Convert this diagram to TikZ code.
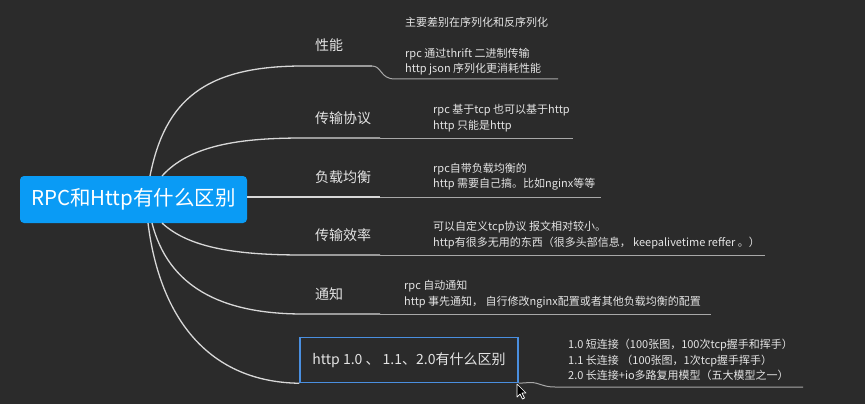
\documentclass[tikz,border=0pt]{standalone}
\usepackage{fontspec}
\setmainfont{Noto Sans CJK SC}
\usepackage{tikz}
\definecolor{bgcol}{HTML}{2B2B2B}
\definecolor{rootcol}{HTML}{0A9BF5}
\definecolor{boxcol}{HTML}{4A8FE0}
\definecolor{txtcol}{HTML}{E4E4E4}
\definecolor{linecol}{HTML}{D8D8D8}
\definecolor{subcol}{HTML}{A8A8A8}

\begin{document}
\begin{tikzpicture}[x=1pt,y=-1pt,
		branch/.style={draw=linecol,line width=1.3pt},
		subline/.style={draw=subcol,line width=1pt},
		topic/.style={anchor=west,inner sep=0pt,text=txtcol,font=\fontsize{14}{16}\selectfont},
		detail/.style={anchor=west,inner sep=0pt,text=txtcol,align=left,font=\fontsize{11}{15.5}\selectfont}]
		\fill[bgcol] (0,0) rectangle (865,404);
		\useasboundingbox (0,0) rectangle (865,404);
		
		\node[fill=rootcol,rounded corners=4pt,minimum width=227pt,minimum height=47pt,inner sep=0pt,text=white,font=\fontsize{20.5}{24}\selectfont] (root) at (133.5,199.5) {RPC和Http有什么区别};
		
		\coordinate (r1) at (150,176);
		\coordinate (r2) at (162,176);
		\coordinate (r4) at (162,223);
		\coordinate (r5) at (152,223);
		\coordinate (r6) at (148,223);
		
		% topics
		\node[topic] (xn) at (315,45) {性能};
		\node[topic] (xy) at (315,118) {传输协议};
		\node[topic] (jh) at (315,177) {负载均衡};
		\node[topic] (xl) at (315,235) {传输效率};
		\node[topic] (tz) at (315,294) {通知};
		\node[draw=boxcol,line width=1.5pt,minimum width=218pt,minimum height=45pt,inner sep=0pt,text=txtcol,font=\fontsize{14}{16}\selectfont] (ht) at (409,360) {http 1.0 、 1.1、2.0有什么区别};
		
		% details
		\node[detail] (dxn) at (405,46) {主要差别在序列化和反序列化\\ \\rpc 通过thrift 二进制传输\\http json 序列化更消耗性能};
		\node[detail] (dxy) at (433,118) {rpc 基于tcp 也可以基于http\\http 只能是http};
		\node[detail] (djh) at (433,176.5) {rpc自带负载均衡的\\http 需要自己搞。比如nginx等等};
		\node[detail] (dxl) at (433,235) {可以自定义tcp协议 报文相对较小。\\http有很多无用的东西（很多头部信息， keepalivetime reffer 。）};
		\node[detail] (dtz) at (404,294) {rpc 自动通知\\http 事先通知， 自行修改nginx配置或者其他负载均衡的配置};
		\node[detail] (dht) at (568,360) {1.0 短连接（100张图，100次tcp握手和挥手）\\1.1 长连接 （100张图，1次tcp握手挥手）\\2.0 长连接+io多路复用模型（五大模型之一）};
		
		% branch ends
		\coordinate (e1) at (372,66);
		\coordinate (e2) at (380,138);
		\coordinate (e4) at (380,255);
		\coordinate (e5) at (380,314);
		
		\draw[branch] (r1) .. controls (165,100) and (205,66) .. (303,66) -- (e1);
		\draw[branch] (r2) .. controls (190,145) and (240,138) .. (303,138) -- (e2);
		\draw[branch] (root.east |- 0,197) -- (380,197);
		\draw[branch] (r4) .. controls (190,249) and (240,255) .. (303,255) -- (e4);
		\draw[branch] (r5) .. controls (168,286) and (220,314) .. (303,314) -- (e5);
		\draw[branch] (r6) .. controls (160,320) and (210,382) .. (ht.south west);
		
		% sub lines
		\draw[subline] (e1) .. controls (382,66) and (380,79) .. (395,79) -- (558,79);
		\draw[subline] (e2) -- (573,138);
		\draw[subline] (380,197) -- (601,197);
		\draw[subline] (e4) -- (765,255);
		\draw[subline] (e5) -- (711,314);
		\draw[subline] (ht.south east) -- (530,382.5) .. controls (540,382.5) and (542,387) .. (555,387) -- (803,387);
		
		% cursor
		\filldraw[fill=black,draw=white,line width=0.7pt,line join=round] (517,384) -- (517,397) -- (520,394) -- (522.5,399) -- (524.5,398) -- (522,393) -- (526,393) -- cycle;
	\end{tikzpicture}
\end{document}
